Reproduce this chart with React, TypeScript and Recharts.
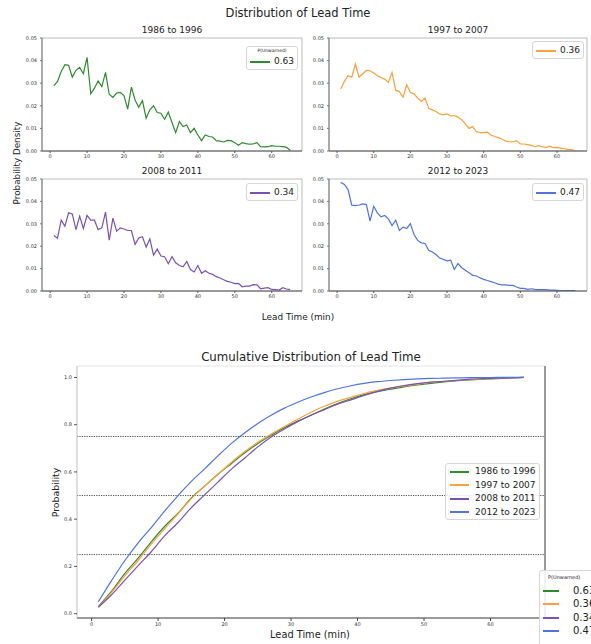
import React from 'react';
import { LineChart, Line, XAxis, YAxis, ReferenceLine, ReferenceArea } from 'recharts';

const FONT = '"DejaVu Sans", sans-serif';

const periods = ['1986 to 1996', '1997 to 2007', '2008 to 2011', '2012 to 2023'];
const colors = ['#2f8a2f', '#f9a03f', '#7a52b3', '#4f74e0'];
const unwarned = [0.63, 0.36, 0.34, 0.47];

// lead time in minutes (density panels)
const leadTime = [
  1, 2, 3, 4, 5, 6, 7, 8, 9, 10,
  11, 12, 13, 14, 15, 16, 17, 18, 19, 20,
  21, 22, 23, 24, 25, 26, 27, 28, 29, 30,
  31, 32, 33, 34, 35, 36, 37, 38, 39, 40,
  41, 42, 43, 44, 45, 46, 47, 48, 49, 50,
  51, 52, 53, 54, 55, 56, 57, 58, 59, 60,
  61, 62, 63, 64, 65,
];

const density1986 = [
  0.0288, 0.0308, 0.0352, 0.0382, 0.0379, 0.0327, 0.0357, 0.037, 0.0342, 0.0414,
  0.0253, 0.0278, 0.031, 0.0285, 0.0348, 0.0251, 0.0237, 0.0256, 0.0259, 0.0245,
  0.0185, 0.0283, 0.0226, 0.0194, 0.0223, 0.0145, 0.0182, 0.02, 0.017, 0.0167,
  0.014, 0.0172, 0.0126, 0.0081, 0.013, 0.0108, 0.0115, 0.0081, 0.01, 0.0071,
  0.0046, 0.0071, 0.0064, 0.0062, 0.0046, 0.0044, 0.004, 0.0047, 0.0046, 0.0037,
  0.0025, 0.0037, 0.0033, 0.003, 0.0031, 0.0037, 0.0019, 0.0018, 0.0019, 0.0024,
  0.0021, 0.0021, 0.0019, 0.0016, 0.0003,
];

const density1997 = [
  0.0274, 0.0308, 0.0333, 0.0327, 0.0385, 0.0327, 0.0342, 0.0357, 0.0355, 0.0345,
  0.0333, 0.0325, 0.0318, 0.0303, 0.0348, 0.0268, 0.0263, 0.0238, 0.0293, 0.0259,
  0.0253, 0.0234, 0.0219, 0.0234, 0.0189, 0.0182, 0.0175, 0.0164, 0.016, 0.0164,
  0.0155, 0.0157, 0.015, 0.0138, 0.012, 0.01, 0.0108, 0.0086, 0.0081, 0.0081,
  0.0083, 0.0071, 0.0064, 0.0059, 0.0052, 0.0044, 0.0041, 0.0041, 0.0046, 0.0031,
  0.0031, 0.0028, 0.0025, 0.0019, 0.0024, 0.0019, 0.0015, 0.0021, 0.0015, 0.0016,
  0.0013, 0.001, 0.0007, 0.0006, 0.0001,
];

const density2008 = [
  0.0248, 0.0236, 0.0316, 0.0289, 0.0349, 0.0344, 0.0274, 0.0334, 0.0279, 0.0338,
  0.0316, 0.0316, 0.0274, 0.0282, 0.0352, 0.0227, 0.0325, 0.0267, 0.0282, 0.0277,
  0.027, 0.027, 0.0208, 0.0237, 0.0242, 0.0196, 0.0233, 0.016, 0.0188, 0.0156,
  0.0153, 0.0122, 0.0153, 0.0126, 0.0114, 0.0108, 0.0132, 0.0096, 0.0085, 0.0114,
  0.0079, 0.009, 0.0079, 0.0074, 0.0064, 0.0058, 0.005, 0.0043, 0.0039, 0.0033,
  0.0034, 0.0019, 0.0022, 0.0022, 0.0028, 0.0027, 0.001, 0.0013, 0.0015, 0.0007,
  0.0006, 0.0004, 0.0015, 0.0009, 0.0006,
];

const density2012 = [
  0.0485, 0.0476, 0.0453, 0.0383, 0.0381, 0.0384, 0.0389, 0.0386, 0.0312, 0.0378,
  0.0349, 0.0331, 0.0337, 0.0322, 0.0292, 0.0316, 0.027, 0.0285, 0.0279, 0.0301,
  0.0252, 0.0226, 0.0215, 0.0212, 0.0182, 0.0174, 0.0163, 0.0147, 0.0141, 0.0135,
  0.0138, 0.0096, 0.0123, 0.0104, 0.0093, 0.0082, 0.007, 0.0067, 0.0059, 0.0052,
  0.0047, 0.0042, 0.0037, 0.0031, 0.0027, 0.0027, 0.0025, 0.0025, 0.0018, 0.0012,
  0.0012, 0.0007, 0.001, 0.0007, 0.0006, 0.0006, 0.0006, 0.0004, 0.0004, 0.0003,
  0.0002, 0.0002, 0.0002, 0.0002, 0.0002,
];

// cumulative distribution, read every 2 minutes
const cdfTime = [
  1, 3, 5, 7, 9, 11, 13, 15, 17, 19, 21, 23, 25, 27, 29, 31, 33,
  35, 37, 39, 41, 43, 45, 47, 49, 51, 53, 55, 57, 59, 61, 63, 65,
];
const cdf1986 = [
  0.03, 0.095, 0.17, 0.235, 0.305, 0.37, 0.425, 0.49, 0.54, 0.59, 0.635, 0.68, 0.72, 0.755, 0.787, 0.815, 0.84,
  0.866, 0.89, 0.91, 0.927, 0.94, 0.95, 0.96, 0.968, 0.975, 0.981, 0.986, 0.99, 0.993, 0.995, 0.998, 1.0,
];
const cdf1997 = [
  0.027, 0.09, 0.16, 0.225, 0.295, 0.36, 0.423, 0.487, 0.54, 0.59, 0.64, 0.685, 0.726, 0.76, 0.792, 0.823, 0.853,
  0.878, 0.899, 0.916, 0.932, 0.945, 0.956, 0.964, 0.972, 0.979, 0.984, 0.988, 0.991, 0.994, 0.996, 0.998, 1.0,
];
const cdf2008 = [
  0.027, 0.08, 0.142, 0.203, 0.263, 0.33, 0.386, 0.449, 0.503, 0.557, 0.611, 0.658, 0.706, 0.748, 0.782, 0.813, 0.84,
  0.864, 0.887, 0.905, 0.924, 0.941, 0.955, 0.966, 0.974, 0.98, 0.984, 0.988, 0.993, 0.995, 0.997, 0.998, 1.0,
];
const cdf2012 = [
  0.05, 0.14, 0.225, 0.3, 0.365, 0.435, 0.5, 0.56, 0.613, 0.668, 0.72, 0.765, 0.805, 0.84, 0.87, 0.895, 0.917,
  0.936, 0.952, 0.965, 0.975, 0.982, 0.987, 0.991, 0.994, 0.996, 0.997, 0.998, 0.999, 0.999, 1.0, 1.0, 1.0,
];

const xTicks = [0, 10, 20, 30, 40, 50, 60];
const densityTicks = [0, 0.01, 0.02, 0.03, 0.04, 0.05];
const cdfTicks = [0, 0.2, 0.4, 0.6, 0.8, 1.0];
const quartiles = [0.25, 0.5, 0.75];

const X_DOMAIN: [number, number] = [-2.2, 68.2];
const tickStyle = { fontSize: 5, fill: '#333', fontFamily: FONT };

const densities = [density1986, density1997, density2008, density2012];

const cdfData = cdfTime.map((t, i) => ({
  t,
  a: cdf1986[i],
  b: cdf1997[i],
  c: cdf2008[i],
  d: cdf2012[i],
}));

const legendBox: React.CSSProperties = {
  position: 'absolute',
  background: 'rgba(255,255,255,0.85)',
  border: '1px solid #d6d6d6',
  borderRadius: 3,
  boxSizing: 'border-box',
  fontFamily: FONT,
  color: '#222',
};

function Row({ y, color, label, lineLeft, lineWidth, textLeft, fontSize }: any) {
  return (
    <>
      <div
        style={{
          position: 'absolute',
          left: lineLeft,
          top: Math.round(y - 1),
          width: lineWidth,
          height: 2,
          background: color,
        }}
      />
      <div
        style={{
          position: 'absolute',
          left: textLeft,
          top: y - fontSize * 0.6,
          fontSize,
          lineHeight: `${fontSize * 1.2}px`,
          whiteSpace: 'nowrap',
        }}
      >
        {label}
      </div>
    </>
  );
}

function DensityPanel({ idx, plotLeft, plotRight, plotTop, plotBottom, legend }: any) {
  const data = leadTime.map((t, i) => ({ t, v: densities[idx][i] }));
  const w = plotRight - plotLeft + 32;
  const h = plotBottom - plotTop + 16;
  return (
    <>
      <div
        style={{
          position: 'absolute',
          left: (plotLeft + plotRight) / 2 - 60,
          width: 120,
          top: plotTop - 13,
          textAlign: 'center',
          fontFamily: FONT,
          fontSize: 9,
          color: '#222',
        }}
      >
        {periods[idx]}
      </div>
      <div style={{ position: 'absolute', left: plotLeft - 28, top: plotTop - 4 }}>
        <LineChart width={w} height={h} data={data} margin={{ top: 4, right: 4, left: 0, bottom: 0 }}>
          <ReferenceArea x1={X_DOMAIN[0]} x2={X_DOMAIN[1]} y1={0} y2={0.05} fill="none" stroke="#aaa" strokeWidth={0.8} />
          <XAxis
            dataKey="t"
            type="number"
            domain={X_DOMAIN}
            ticks={xTicks}
            interval={0}
            allowDataOverflow
            height={12}
            tick={tickStyle}
            tickSize={2}
            tickMargin={1}
            stroke="#555"
          />
          <YAxis
            type="number"
            domain={[0, 0.05]}
            ticks={densityTicks}
            interval={0}
            allowDataOverflow
            width={28}
            tick={tickStyle}
            tickSize={2}
            tickMargin={3}
            stroke="#777"
            tickFormatter={(v: number) => v.toFixed(2)}
          />
          <Line
            dataKey="v"
            type="linear"
            stroke={colors[idx]}
            strokeWidth={1.2}
            dot={false}
            isAnimationActive={false}
          />
        </LineChart>
      </div>
      <div style={{ ...legendBox, left: legend.left, top: legend.top, width: 52, height: legend.title ? 24 : 18 }}>
        {legend.title && (
          <div style={{ position: 'absolute', left: 0, width: 50, top: 1, textAlign: 'center', fontSize: 4.5 }}>
            P(Unwarned)
          </div>
        )}
        <Row
          y={legend.title ? 14.5 : 8.5}
          color={colors[idx]}
          label={unwarned[idx].toFixed(2)}
          lineLeft={3}
          lineWidth={20}
          textLeft={27}
          fontSize={9}
        />
      </div>
    </>
  );
}

export default function App() {
  return (
    <div
      style={{
        position: 'absolute',
        left: 0,
        top: 0,
        width: 591,
        height: 644,
        overflow: 'hidden',
        background: '#fff',
        fontFamily: FONT,
      }}
    >
      <div style={{ position: 'absolute', left: 198, width: 200, top: 6, textAlign: 'center', fontSize: 11.5, color: '#222' }}>
        Distribution of Lead Time
      </div>

      <DensityPanel idx={0} plotLeft={42} plotRight={302} plotTop={38} plotBottom={151} legend={{ left: 246, top: 46, title: true }} />
      <DensityPanel idx={1} plotLeft={329} plotRight={587} plotTop={38} plotBottom={151} legend={{ left: 532, top: 41 }} />
      <DensityPanel idx={2} plotLeft={42} plotRight={302} plotTop={179} plotBottom={291} legend={{ left: 246, top: 183 }} />
      <DensityPanel idx={3} plotLeft={329} plotRight={587} plotTop={179} plotBottom={291} legend={{ left: 532, top: 183 }} />

      <div
        style={{
          position: 'absolute',
          left: 17 - 60,
          top: 164 - 6,
          width: 120,
          textAlign: 'center',
          fontSize: 8.8,
          color: '#222',
          transform: 'rotate(-90deg)',
        }}
      >
        Probability Density
      </div>
      <div style={{ position: 'absolute', left: 238, width: 120, top: 312, textAlign: 'center', fontSize: 8.9, color: '#222' }}>
        Lead Time (min)
      </div>

      <div style={{ position: 'absolute', left: 161, width: 300, top: 350, textAlign: 'center', fontSize: 11.8, color: '#222' }}>
        Cumulative Distribution of Lead Time
      </div>

      <div style={{ position: 'absolute', left: 57, top: 362 }}>
        <LineChart width={492} height={268} data={cdfData} margin={{ top: 4, right: 4, left: 0, bottom: 0 }}>
          <ReferenceArea x1={X_DOMAIN[0]} x2={X_DOMAIN[1]} y1={-0.0185} y2={1.0485} fill="none" stroke="#ddd" strokeWidth={0.8} />
          <XAxis
            dataKey="t"
            type="number"
            domain={X_DOMAIN}
            ticks={xTicks}
            interval={0}
            allowDataOverflow
            height={12}
            tick={tickStyle}
            tickSize={3}
            tickMargin={1}
            stroke="#444"
          />
          <YAxis
            type="number"
            domain={[-0.0185, 1.0485]}
            ticks={cdfTicks}
            interval={0}
            allowDataOverflow
            width={20}
            tick={tickStyle}
            tickSize={3}
            tickMargin={2}
            stroke="#ccc"
            tickLine={{ stroke: '#555' }}
            tickFormatter={(v: number) => v.toFixed(1)}
          />
          <ReferenceLine x={X_DOMAIN[1]} stroke="#444" strokeWidth={1} />
          {quartiles.map((q) => (
            <ReferenceLine key={q} y={q} stroke="#333" strokeDasharray="1.2 1.2" strokeWidth={0.9} />
          ))}
          {['a', 'b', 'c', 'd'].map((k, i) => (
            <Line
              key={k}
              dataKey={k}
              type="monotone"
              stroke={colors[i]}
              strokeWidth={1.2}
              dot={false}
              isAnimationActive={false}
            />
          ))}
        </LineChart>
      </div>

      <div
        style={{
          position: 'absolute',
          left: 55 - 50,
          top: 493 - 6,
          width: 100,
          textAlign: 'center',
          fontSize: 9.4,
          color: '#222',
          transform: 'rotate(-90deg)',
        }}
      >
        Probability
      </div>
      <div style={{ position: 'absolute', left: 250, width: 120, top: 629, textAlign: 'center', fontSize: 9.8, color: '#222' }}>
        Lead Time (min)
      </div>

      <div style={{ ...legendBox, left: 445, top: 463, width: 95, height: 57 }}>
        {periods.map((p, i) => (
          <Row key={p} y={7.5 + i * 13.6} color={colors[i]} label={p} lineLeft={4} lineWidth={19} textLeft={29} fontSize={9} />
        ))}
      </div>

      <div style={{ ...legendBox, left: 539, top: 570, width: 70, height: 80 }}>
        <div style={{ position: 'absolute', left: 8, top: 3, fontSize: 5 }}>P(Unwarned)</div>
        {unwarned.map((u, i) => (
          <Row key={i} y={19.5 + i * 13.6} color={colors[i]} label={u.toFixed(2)} lineLeft={3} lineWidth={16} textLeft={33} fontSize={10} />
        ))}
      </div>
    </div>
  );
}
